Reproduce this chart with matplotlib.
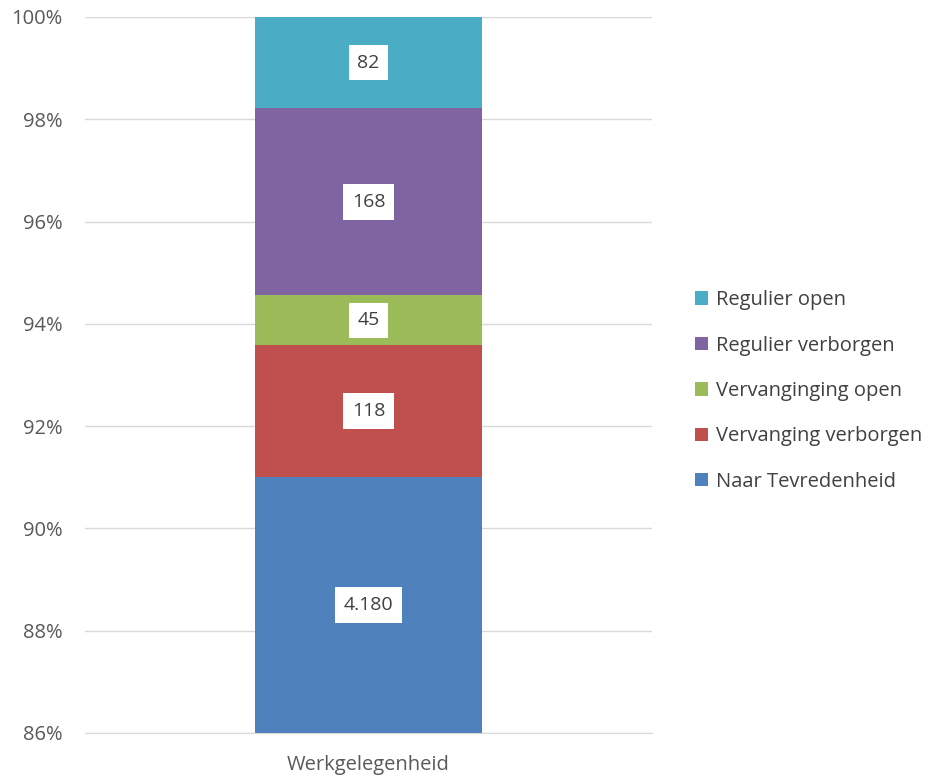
import matplotlib.pyplot as plt
from matplotlib.ticker import FuncFormatter

plt.rcParams['font.family'] = ['Open Sans', 'DejaVu Sans']

category = 'Werkgelegenheid'
series = ['Naar Tevredenheid', 'Vervanging verborgen', 'Vervanginging open',
          'Regulier verborgen', 'Regulier open']
counts = [4180, 118, 45, 168, 82]
labels = ['4.180', '118', '45', '168', '82']
colors = ['#4F81BD', '#C0504D', '#9BBB59', '#8064A2', '#4BACC6']

ymin = 86
total = sum(counts)
shares = [c / total * 100 for c in counts]

fig = plt.figure(figsize=(9.35, 7.78), dpi=100)
ax = fig.add_axes([85 / 935, 1 - 733 / 778, 567 / 935, (733 - 17) / 778])

bottom = 0
handles = []
for name, share, lab, col in zip(series, shares, labels, colors):
    b = ax.bar(0, share, width=0.4, bottom=bottom, color=col, label=name, zorder=3)
    handles.append(b)
    # label sits in the middle of the visible part of the segment
    mid = (max(bottom, ymin) + bottom + share) / 2
    ax.text(0, mid, lab, ha='center', va='center', fontsize=14, color='#404040',
            zorder=4, bbox=dict(boxstyle='square,pad=0.45', fc='white', ec='none'))
    bottom += share

ax.set_ylim(ymin, 100)
ax.set_xlim(-0.5, 0.5)
ax.set_yticks(range(86, 101, 2))
ax.yaxis.set_major_formatter(FuncFormatter(lambda v, p: f'{v:.0f}%'))
ax.set_xticks([0])
ax.set_xticklabels([category])
ax.tick_params(axis='y', length=0, labelsize=14.5, colors='#595959', pad=16)
ax.tick_params(axis='x', length=0, labelsize=14.5, colors='#595959', pad=16)
ax.grid(axis='y', color='#D9D9D9', linewidth=1, zorder=0)
for s in ['top', 'right', 'left']:
    ax.spines[s].set_visible(False)
ax.spines['bottom'].set_color('#D9D9D9')

leg = fig.legend(handles[::-1], series[::-1], loc='center left',
                 bbox_to_anchor=(677 / 935, 1 - 391 / 778), frameon=False,
                 fontsize=14.5, handlelength=0.65, handleheight=0.65,
                 handletextpad=0.4, labelspacing=1.26)
for t in leg.get_texts():
    t.set_color('#404040')

fig.savefig('out.png', dpi=100)
